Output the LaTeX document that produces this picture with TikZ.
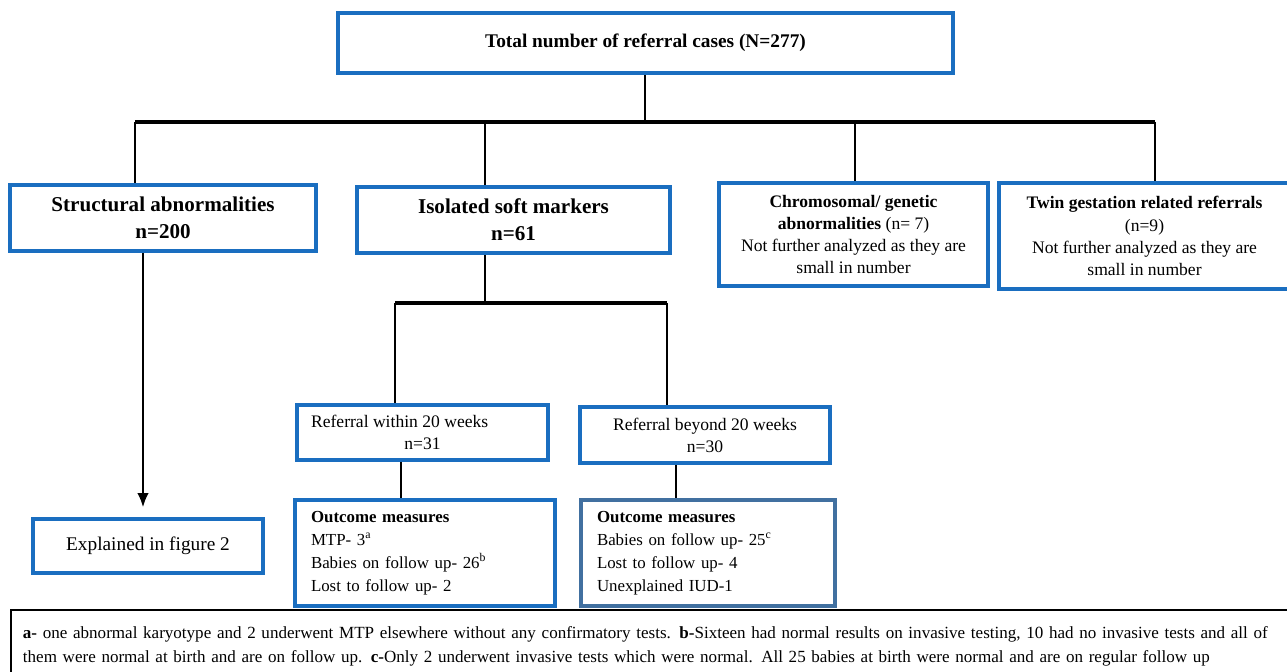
\documentclass[tikz,border=0pt]{standalone}
\usepackage{fontspec}
\setmainfont{Liberation Serif}
\usetikzlibrary{arrows.meta}
\definecolor{boxblue}{HTML}{1A6EC0}
\definecolor{boxsteel}{HTML}{4170A0}

\begin{document}
\begin{tikzpicture}[x=0.02cm,y=-0.02cm]

\tikzset{box/.style = {shape=rectangle,draw=boxblue,line width=2pt,fill=white,inner sep=0pt,align=center,font=\fontsize{9.6}{13}\selectfont}}
\tikzset{edge/.style = {line width=1.2pt}}
\tikzset{bar/.style = {line width=1.8pt}}
\tikzset{arrow/.style = {-{Latex[length=8pt,width=6.5pt]},line width=1.2pt}}

\useasboundingbox (0,0) rectangle (1287,672);

% vertices
\node[box,minimum width=615*0.02cm,minimum height=60*0.02cm] (total) at (645.5,43) {\fontsize{11}{13}\selectfont\textbf{Total number of referral cases (N=277)}};

\node[box,minimum width=306*0.02cm,minimum height=66*0.02cm,font=\fontsize{12}{15.3}\selectfont] (struct) at (163,218) {\textbf{Structural abnormalities}\\\textbf{n=200}};
\node[box,minimum width=313*0.02cm,minimum height=66*0.02cm,font=\fontsize{12}{15.3}\selectfont] (soft) at (513.5,220) {\textbf{Isolated soft markers}\\\textbf{n=61}};
\node[box,minimum width=269*0.02cm,minimum height=103*0.02cm,font=\fontsize{10}{12.6}\selectfont] (chrom) at (853.5,234.5) {\textbf{Chromosomal/ genetic}\\\textbf{abnormalities} (n= 7)\\Not further analyzed as they are\\small in number};
\node[box,minimum width=291*0.02cm,minimum height=106*0.02cm,font=\fontsize{10}{12.6}\selectfont] (twin) at (1144.5,236) {\textbf{Twin gestation related referrals}\\(n=9)\\Not further analyzed as they are\\small in number};

\node[box,minimum width=251*0.02cm,minimum height=55*0.02cm,font=\fontsize{10}{12.6}\selectfont] (within) at (422.5,432.5) {Referral within 20 weeks\hspace*{2.6em}\\n=31};
\node[box,minimum width=250*0.02cm,minimum height=56*0.02cm,font=\fontsize{10}{12.6}\selectfont] (beyond) at (705,435) {Referral beyond 20 weeks\\n=30};

\node[box,minimum width=260*0.02cm,minimum height=106*0.02cm,align=left,text width=228*0.02cm] (out1) at (425,553) {\textbf{Outcome measures}\\MTP- 3\textsuperscript{a}\\Babies on follow up- 26\textsuperscript{b}\\Lost to follow up- 2};
\node[box,draw=boxsteel,minimum width=254*0.02cm,minimum height=106*0.02cm,align=left,text width=222*0.02cm] (out2) at (708,553) {\textbf{Outcome measures}\\Babies on follow up- 25\textsuperscript{c}\\Lost to follow up- 4\\Unexplained IUD-1};

\node[box,minimum width=230*0.02cm,minimum height=54*0.02cm,font=\fontsize{11}{13}\selectfont] (expl) at (148,546) {Explained in figure 2};

\node[box,draw=black,line width=1.1pt,minimum width=1290*0.02cm,minimum height=72*0.02cm,anchor=north west,align=left,inner xsep=12*0.02cm,text width=1266*0.02cm,font=\fontsize{9.7}{13.6}\selectfont] (note) at (10,609) {\textbf{a-} one abnormal karyotype and 2 underwent MTP elsewhere without any confirmatory tests. \textbf{b-}Sixteen had normal results on invasive testing, 10 had no invasive tests and all of\\them were normal at birth and are on follow up. \textbf{c-}Only 2 underwent invasive tests which were normal. All 25 babies at birth were normal and are on regular follow up};

% junctions
\coordinate (j0) at (645,122);
\coordinate (j1) at (135,122);
\coordinate (j2) at (485,122);
\coordinate (j3) at (855,122);
\coordinate (j4) at (1155,122);
\coordinate (k0) at (485,303);
\coordinate (k1) at (395,303);
\coordinate (k2) at (667,303);

%edges
\draw[edge] (total.south -| j0) to (j0);
\draw[bar] (j1) to (j4);
\draw[edge] (j1) to (j1 |- struct.north);
\draw[edge] (j2) to (j2 |- soft.north);
\draw[edge] (j3) to (j3 |- chrom.north);
\draw[edge] (j4) to (j4 |- twin.north);

\draw[edge] (soft.south -| k0) to (k0);
\draw[bar] (k1) to (k2);
\draw[edge] (k1) to (k1 |- within.north);
\draw[edge] (k2) to (k2 |- beyond.north);

\draw[edge] (within.south -| 401,0) to (out1.north -| 401,0);
\draw[edge] (beyond.south -| 676,0) to (out2.north -| 676,0);

\draw[arrow,shorten >=10*0.02cm] (struct.south -| 143,0) to (expl.north -| 143,0);

\end{tikzpicture}
\end{document}
